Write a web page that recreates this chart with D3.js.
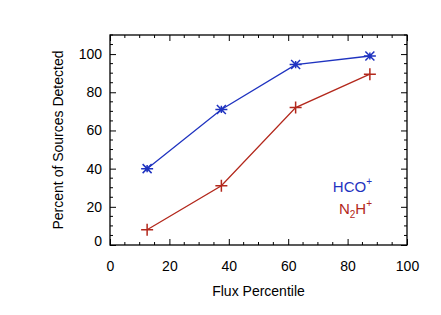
<!DOCTYPE html>
<html>
<head>
<meta charset="utf-8">
<script src="https://cdn.jsdelivr.net/npm/d3@7"></script>
<style>
  body { margin: 0; background: #fff; }
  text { font-family: "Liberation Sans", Arial, sans-serif; }
</style>
</head>
<body>
<div id="chart"></div>
<script>
// flux percentile bins
var percentiles = [12.5, 37.5, 62.5, 87.5];
// percent of sources detected
var hcoValues = [40, 71, 94.5, 99];
var n2hValues = [8, 31, 72, 89.5];
var xTicks = [0, 20, 40, 60, 80, 100];
var yTicks = [0, 20, 40, 60, 80, 100];

var width = 441, height = 315;
var blue = "#1f33c0", red = "#b3281c";

var svg = d3.select("#chart").append("svg")
    .attr("width", width)
    .attr("height", height);

// plot box (note: "top" is taken by window.top, so use box_*)
var box_left = 110, box_right = 407, box_top = 35, box_bottom = 245;

var x = d3.scaleLinear().domain([0, 100]).range([box_left, box_right]);
var y = d3.scaleLinear().domain([0, 110]).range([box_bottom, box_top]);

var minorX = d3.range(0, 101, 5).filter(function(d) { return d % 20 != 0; });
var minorY = d3.range(0, 111, 5).filter(function(d) { return d % 20 != 0; });

// bottom axis (ticks inward)
var bottomAxis = svg.append("g")
    .attr("transform", "translate(0," + box_bottom + ")")
    .call(d3.axisBottom(x).tickValues(xTicks).tickSizeInner(-6).tickSizeOuter(0).tickPadding(16));
bottomAxis.selectAll("text").style("font-size", "14px").attr("fill", "#000");

bottomAxis.selectAll(".minor")
    .data(minorX).enter().append("line")
    .attr("x1", function(d) { return x(d); }).attr("x2", function(d) { return x(d); })
    .attr("y1", 0).attr("y2", -3)
    .attr("stroke", "#000");

// top axis, no labels
var topAxis = svg.append("g")
    .attr("transform", "translate(0," + box_top + ")")
    .call(d3.axisTop(x).tickValues(xTicks).tickSizeInner(-6).tickSizeOuter(0).tickFormat(""));
topAxis.selectAll(".minor")
    .data(minorX).enter().append("line")
    .attr("x1", function(d) { return x(d); }).attr("x2", function(d) { return x(d); })
    .attr("y1", 0).attr("y2", 3)
    .attr("stroke", "#000");

// left axis
var leftAxis = svg.append("g")
    .attr("transform", "translate(" + box_left + ",0)")
    .call(d3.axisLeft(y).tickValues(yTicks).tickSizeInner(-6).tickSizeOuter(0).tickPadding(8));
leftAxis.selectAll("text").style("font-size", "14px").attr("fill", "#000");
// the 0 label sits a bit above the corner
leftAxis.selectAll(".tick").filter(function(d) { return d == 0; })
    .select("text").attr("y", -4);
leftAxis.selectAll(".minor")
    .data(minorY).enter().append("line")
    .attr("y1", function(d) { return y(d); }).attr("y2", function(d) { return y(d); })
    .attr("x1", 0).attr("x2", 3)
    .attr("stroke", "#000");

// right axis
var rightAxis = svg.append("g")
    .attr("transform", "translate(" + box_right + ",0)")
    .call(d3.axisRight(y).tickValues(yTicks).tickSizeInner(-6).tickSizeOuter(0).tickFormat(""));
rightAxis.selectAll(".minor")
    .data(minorY).enter().append("line")
    .attr("y1", function(d) { return y(d); }).attr("y2", function(d) { return y(d); })
    .attr("x1", 0).attr("x2", -3)
    .attr("stroke", "#000");

// frame
svg.append("rect")
    .attr("x", box_left).attr("y", box_top)
    .attr("width", box_right - box_left).attr("height", box_bottom - box_top)
    .attr("fill", "none").attr("stroke", "#000").attr("stroke-width", 1.3);

svg.selectAll(".domain").remove();

// axis titles
svg.append("text")
    .attr("x", (box_left + box_right) / 2).attr("y", 296)
    .attr("text-anchor", "middle")
    .style("font-size", "14px")
    .text("Flux Percentile");

svg.append("text")
    .attr("transform", "translate(63," + (box_top + box_bottom) / 2 + ") rotate(-90)")
    .attr("text-anchor", "middle")
    .style("font-size", "14px")
    .text("Percent of Sources Detected");

// lines
var line = d3.line()
    .x(function(d) { return x(d[0]); })
    .y(function(d) { return y(d[1]); });

var hco = d3.zip(percentiles, hcoValues);
var n2h = d3.zip(percentiles, n2hValues);

svg.append("path").datum(hco)
    .attr("d", line).attr("fill", "none").attr("stroke", blue).attr("stroke-width", 1.3);
svg.append("path").datum(n2h)
    .attr("d", line).attr("fill", "none").attr("stroke", red).attr("stroke-width", 1.3);

// asterisk markers
var s = 6;
svg.selectAll(".star").data(hco).enter().append("path")
    .attr("transform", function(d) { return "translate(" + x(d[0]) + "," + y(d[1]) + ")"; })
    .attr("d", "M" + (-s) + ",0L" + s + ",0M" + (-s * 0.75) + "," + (-s * 0.75) + "L" + (s * 0.75) + "," + (s * 0.75) +
               "M" + (-s * 0.75) + "," + (s * 0.75) + "L" + (s * 0.75) + "," + (-s * 0.75) +
               "M0," + (-s * 0.6) + "L0," + (s * 0.6))
    .attr("stroke", blue).attr("stroke-width", 1.5).attr("fill", "none");

// plus markers
svg.selectAll(".plus").data(n2h).enter().append("path")
    .attr("transform", function(d) { return "translate(" + x(d[0]) + "," + y(d[1]) + ")"; })
    .attr("d", "M" + (-s) + ",0L" + s + ",0M0," + (-s) + "L0," + s)
    .attr("stroke", red).attr("stroke-width", 1.5).attr("fill", "none");

// legend labels
var lg1 = svg.append("text")
    .attr("x", 372).attr("y", 192)
    .attr("text-anchor", "end")
    .attr("fill", blue)
    .style("font-size", "15px");
lg1.append("tspan").text("HCO");
lg1.append("tspan").attr("dy", -7).style("font-size", "10px").text("+");

var lg2 = svg.append("text")
    .attr("x", 372).attr("y", 214)
    .attr("text-anchor", "end")
    .attr("fill", red)
    .style("font-size", "15px");
lg2.append("tspan").text("N");
lg2.append("tspan").attr("dy", 4).style("font-size", "10px").text("2");
lg2.append("tspan").attr("dy", -4).text("H");
lg2.append("tspan").attr("dy", -7).style("font-size", "10px").text("+");
</script>
</body>
</html>
